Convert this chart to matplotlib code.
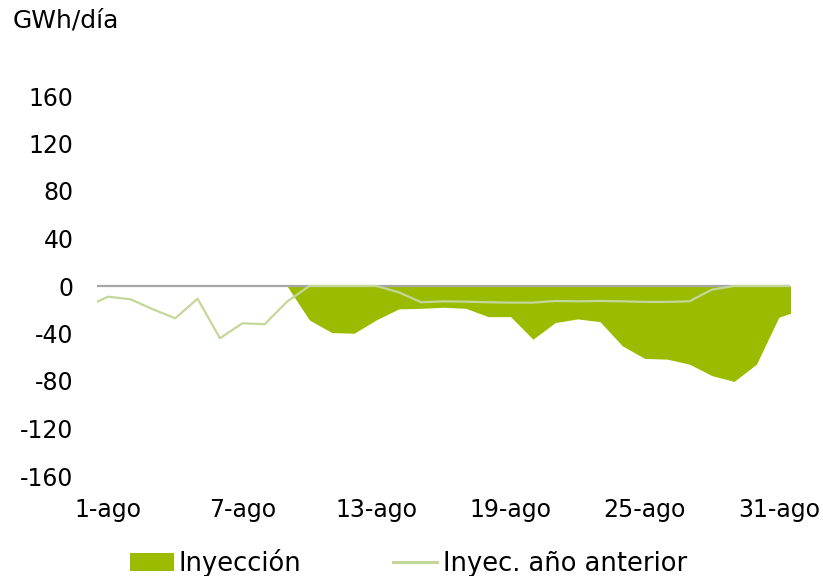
import matplotlib.pyplot as plt
from matplotlib.patches import Patch
from matplotlib.lines import Line2D

# daily series, 31-jul (day 0) through 1-sep (day 32)
days = list(range(0, 33))
inyeccion = [0, 0, 0, 0, 0, 0, 0, 0, 0, 0,
             -28.6, -39.2, -39.8, -28.5, -19.3, -18.8, -17.9, -18.8, -25.8, -25.8,
             -44.8, -30.8, -27.7, -30.0, -50.4, -61.0, -61.6, -65.8, -75.4, -80.4,
             -65.8, -26.3, -20.0]
inyec_anterior = [-17.4, -9.0, -11.2, -19.6, -27.2, -10.7, -44.0, -31.4, -32.2, -13.2,
                  0, 0, 0, 0, -5.3, -13.7, -12.9, -13.2, -13.7, -14.0,
                  -14.0, -12.6, -12.9, -12.6, -12.9, -13.4, -13.4, -12.9, -3.1, 0,
                  0, 0, 0]
tick_days = [1, 7, 13, 19, 25, 31]
tick_labels = ['1-ago', '7-ago', '13-ago', '19-ago', '25-ago', '31-ago']
y_ticks = [-160, -120, -80, -40, 0, 40, 80, 120, 160]

green = '#9BBB00'
light_green = '#C4D79B'

plt.rcParams['font.family'] = 'DejaVu Sans'
plt.rcParams['font.size'] = 17

fig = plt.figure(figsize=(8.23, 5.76), dpi=100)
ax = fig.add_axes([97 / 823, 1 - 476 / 576, 693 / 823, 380 / 576])

ax.fill_between(days, inyeccion, 0, color=green, linewidth=0, zorder=1)
ax.axhline(0, color='#A6A6A6', linewidth=1.6, zorder=2)
ax.plot(days, inyec_anterior, color=light_green, linewidth=1.6, zorder=3)

ax.set_xlim(0.5, 31.5)
ax.set_ylim(-160, 160)
ax.set_xticks(tick_days)
ax.set_xticklabels(tick_labels)
ax.set_yticks(y_ticks)
ax.set_yticklabels([str(v) for v in y_ticks])  # plain hyphen for negatives
ax.tick_params(length=0)
ax.tick_params(axis='y', pad=17)
ax.tick_params(axis='x', pad=15.5)
for s in ax.spines.values():
    s.set_visible(False)

fig.text(13 / 823, 1 - 21 / 576, 'GWh/día', va='center', ha='left', fontsize=18)

handles = [Patch(facecolor=green, edgecolor='none'),
           Line2D([], [], color=light_green, linewidth=2.2)]
fig.legend(handles, ['Inyección', 'Inyec. año anterior'], ncol=2, frameon=False,
           loc='center', bbox_to_anchor=(0.496, 0.0226), fontsize=18.5,
           handlelength=1.71, handletextpad=0.2, columnspacing=3.58,
           borderpad=0, borderaxespad=0)

fig.savefig('out.png', dpi=100)
